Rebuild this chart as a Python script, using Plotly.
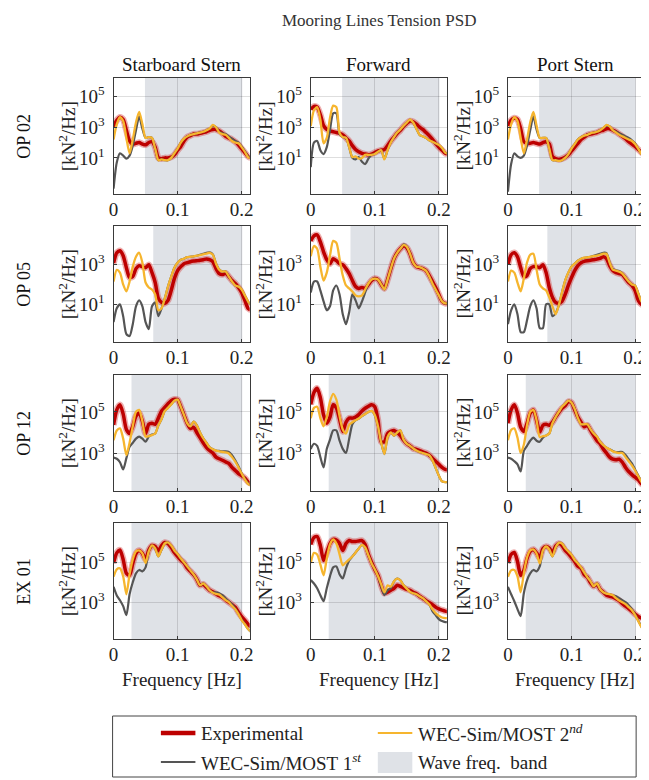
import plotly.graph_objects as go
from plotly.subplots import make_subplots

# ---------------- data (log10 of PSD, kN^2/Hz) ----------------
F = [0.0, 0.005, 0.01, 0.015, 0.02, 0.025, 0.03, 0.035, 0.04, 0.045, 0.05, 0.055, 0.06, 0.065,
     0.07, 0.075, 0.08, 0.085, 0.09, 0.095, 0.1, 0.105, 0.11, 0.115, 0.12, 0.125, 0.13, 0.135,
     0.14, 0.145, 0.15, 0.155, 0.16, 0.165, 0.17, 0.175, 0.18, 0.185, 0.19, 0.195, 0.2, 0.205,
     0.21, 0.215]

ROW_NAMES = ["OP 02", "OP 05", "OP 12", "EX 01"]
COL_NAMES = ["Starboard Stern", "Forward", "Port Stern"]
BAND_LO = [0.049, 0.062, 0.028, 0.028]
BAND_HI = [0.201, 0.201, 0.201, 0.201]
Y_RANGE = [[-1.35, 6.2], [-0.9, 4.95], [1.15, 6.8], [1.15, 6.98]]
Y_TICK_EXP = [[1, 3, 5], [1, 3], [3, 5], [3, 5]]
X_TICKS = [0, 0.1, 0.2]
X_TICK_TEXT = ["0", "0.1", "0.2"]

# OP 02
EXP_OP02_SS = [3.05,3.45,3.65,3.5,2.8,2.1,1.9,1.95,2.0,1.9,1.85,2.0,2.05,1.7,1.0,0.95,1.0,1.0,1.05,1.2,1.5,1.75,2.1,2.35,2.45,2.55,2.55,2.6,2.65,2.7,2.8,2.85,2.85,2.75,2.6,2.4,2.3,2.2,2.05,1.85,1.6,1.35,1.1,1.0]
M2_OP02_SS = [2.2,3.2,3.65,3.4,2.3,1.3,2.2,3.3,4.0,3.2,2.3,2.35,2.3,1.6,0.85,0.9,0.85,0.85,1.0,1.3,1.6,2.0,2.25,2.4,2.5,2.55,2.6,2.65,2.7,2.8,2.9,3.15,3.0,2.65,2.55,2.5,2.3,2.1,2.0,1.95,1.7,1.4,1.05,0.95]
M1_OP02_SS = [-1.0,0.7,1.3,1.15,0.95,1.15,1.8,2.8,3.7,2.9,2.3,2.35,2.3,1.6,0.85,0.9,0.85,0.85,1.0,1.3,1.6,2.0,2.25,2.4,2.5,2.55,2.6,2.65,2.7,2.8,2.9,3.1,3.0,2.7,2.6,2.55,2.4,2.25,2.1,2.0,1.75,1.45,1.1,1.0]

EXP_OP02_FW = [4.15,4.35,4.3,3.8,3.1,2.85,2.75,2.7,2.65,2.6,2.5,2.3,2.1,1.8,1.55,1.4,1.3,1.25,1.2,1.25,1.35,1.45,1.5,1.55,1.8,2.1,2.35,2.6,2.8,3.05,3.25,3.4,3.35,3.2,3.0,2.85,2.65,2.45,2.2,1.95,1.7,1.5,1.3,1.25]
M2_OP02_FW = [3.07,4.1,4.3,3.5,1.95,2.3,3.6,4.4,4.3,2.63,2.35,2.3,1.7,1.05,1.1,0.95,1.0,1.2,1.2,1.2,1.25,1.4,1.5,0.9,1.5,2.0,2.35,2.65,2.85,3.1,3.3,3.5,3.3,2.9,2.5,2.4,2.3,2.15,2.05,1.95,1.85,1.65,1.35,1.25]
M1_OP02_FW = [0.4,2.0,2.1,1.5,1.25,1.7,2.8,3.9,3.9,2.55,2.35,2.3,1.7,1.0,0.9,1.05,0.75,0.6,0.95,1.2,1.25,1.4,1.5,0.95,1.5,2.0,2.35,2.65,2.85,3.1,3.3,3.5,3.3,2.9,2.5,2.4,2.3,2.15,2.05,1.95,1.85,1.65,1.35,1.25]

EXP_OP02_PS = [3.07,3.45,3.6,3.5,2.9,2.05,1.95,1.95,2.0,1.95,1.9,2.0,2.05,1.9,1.1,0.95,0.9,0.95,1.05,1.2,1.45,1.7,1.95,2.2,2.35,2.5,2.55,2.6,2.65,2.75,2.8,2.9,2.9,2.8,2.7,2.55,2.4,2.25,2.05,1.9,1.75,1.55,1.35,1.2]
M2_OP02_PS = [2.2,3.2,3.65,3.4,2.3,1.3,2.2,3.3,4.0,3.1,2.3,2.3,2.3,1.6,0.85,0.85,0.8,0.85,1.0,1.25,1.6,1.9,2.2,2.35,2.45,2.5,2.6,2.65,2.7,2.8,2.95,3.15,3.05,2.8,2.65,2.5,2.4,2.3,2.2,2.1,1.9,1.6,1.25,1.1]
M1_OP02_PS = [-1.2,0.6,1.3,1.1,1.0,1.15,1.8,2.8,3.7,2.85,2.3,2.3,2.3,1.6,0.85,0.85,0.8,0.85,1.0,1.25,1.6,1.9,2.2,2.35,2.45,2.5,2.6,2.65,2.7,2.8,2.95,3.1,3.05,2.8,2.7,2.6,2.5,2.4,2.3,2.15,1.95,1.6,1.25,1.1]

# OP 05
EXP_OP05_SS = [3.08,3.6,3.7,3.45,2.85,2.35,2.4,2.8,2.95,2.9,2.85,3.0,2.6,2.1,1.3,1.1,1.05,1.2,1.7,2.3,2.7,2.9,3.05,3.1,3.15,3.18,3.2,3.22,3.25,3.29,3.25,3.15,2.8,2.55,2.5,2.57,2.4,2.2,2.05,1.85,1.6,1.2,0.8,0.7]
M2_OP05_SS = [2.15,2.74,2.6,2.0,1.65,2.15,2.9,3.4,3.6,3.1,2.1,1.85,1.75,1.5,0.7,0.8,1.3,1.9,2.4,2.85,3.1,3.25,3.3,3.38,3.4,3.42,3.45,3.48,3.52,3.56,3.6,3.5,3.05,2.75,2.65,2.66,2.4,2.15,1.95,1.9,1.75,1.45,1.15,0.95]
M1_OP05_SS = [0.1,0.8,1.0,0.4,-0.5,-0.6,0.0,0.9,1.2,0.9,0.1,-0.25,0.9,1.1,0.4,0.8,1.3,1.9,2.4,2.85,3.1,3.25,3.3,3.38,3.4,3.42,3.45,3.5,3.55,3.6,3.62,3.52,3.05,2.75,2.65,2.66,2.4,2.15,1.95,1.9,1.75,1.45,1.15,0.95]

EXP_OP05_FW = [4.2,4.45,4.5,4.15,3.65,3.25,3.05,3.3,3.2,3.05,3.0,2.8,2.55,2.2,1.9,1.8,1.85,1.8,2.0,2.2,2.3,2.25,2.0,1.8,2.25,2.8,3.3,3.6,3.8,3.95,3.85,3.55,3.1,2.9,2.85,2.8,2.7,2.45,2.15,1.85,1.5,1.15,1.05,1.05]
M2_OP05_FW = [3.43,3.94,3.8,2.9,2.2,2.6,3.45,4.2,4.1,3.3,2.45,1.95,1.8,1.65,1.45,1.4,1.45,1.75,2.05,2.25,2.3,2.25,2.0,1.75,2.25,2.8,3.3,3.6,3.8,4.0,3.9,3.55,3.1,2.9,2.88,2.8,2.7,2.4,2.05,1.75,1.45,1.15,1.05,1.05]
M1_OP05_FW = [1.6,2.15,2.15,1.7,1.15,0.7,0.9,1.7,1.95,1.5,0.5,0.0,0.6,1.5,1.2,0.8,1.15,1.6,2.05,2.25,2.3,2.25,2.0,1.75,2.25,2.8,3.3,3.6,3.8,4.02,3.92,3.55,3.1,2.9,2.88,2.8,2.7,2.4,2.05,1.75,1.45,1.15,1.05,1.05]

EXP_OP05_PS = [3.0,3.5,3.6,3.4,2.85,2.4,2.45,2.8,2.9,2.9,2.85,3.0,2.6,1.85,1.35,1.1,1.05,1.15,1.5,1.95,2.35,2.7,2.95,3.1,3.17,3.2,3.22,3.25,3.28,3.32,3.4,3.3,2.95,2.7,2.6,2.55,2.5,2.3,2.1,1.95,1.7,1.2,1.0,0.95]
M2_OP05_PS = [2.15,2.7,2.6,2.1,1.65,2.3,3.1,3.5,3.55,2.75,2.0,1.8,1.7,1.35,0.9,0.5,0.95,1.6,2.2,2.6,2.9,3.05,3.2,3.3,3.35,3.37,3.4,3.43,3.46,3.5,3.55,3.55,3.1,2.75,2.7,2.65,2.55,2.35,2.15,2.0,1.95,1.55,1.15,1.0]
M1_OP05_PS = [0.0,0.7,1.0,0.5,-0.4,-0.4,0.2,0.9,1.2,0.8,-0.2,-0.2,1.0,1.0,0.4,0.55,0.95,1.6,2.2,2.6,2.9,3.05,3.2,3.3,3.35,3.37,3.4,3.45,3.5,3.55,3.6,3.58,3.12,2.78,2.72,2.68,2.57,2.37,2.15,2.0,1.95,1.55,1.15,1.0]

# OP 12
EXP_OP12_SS = [4.37,5.1,5.35,4.9,4.15,3.95,4.3,4.8,4.95,4.55,3.95,4.4,4.45,4.4,4.7,5.05,5.22,5.4,5.55,5.62,5.6,5.25,4.85,4.45,4.2,4.25,4.0,3.75,3.5,3.28,3.12,3.0,2.8,2.72,2.65,2.57,2.5,2.3,2.15,2.0,1.9,1.78,1.6,1.5]
M2_OP12_SS = [3.62,4.1,4.2,3.7,2.9,3.5,4.3,5.0,5.1,4.55,3.8,3.82,3.87,3.95,4.35,4.65,5.05,5.2,5.37,5.55,5.6,5.25,4.85,4.45,4.3,4.53,4.35,4.0,3.72,3.5,3.28,3.18,3.12,3.08,3.05,3.03,2.98,2.8,2.58,2.3,2.0,1.72,1.5,1.4]
M1_OP12_SS = [2.78,2.72,2.55,2.2,2.75,3.3,3.5,3.7,3.8,3.7,3.55,3.8,3.9,3.95,4.35,4.65,5.05,5.2,5.37,5.55,5.6,5.25,4.85,4.45,4.3,4.53,4.35,4.0,3.72,3.5,3.28,3.18,3.12,3.1,3.08,3.08,3.05,2.9,2.65,2.35,2.02,1.74,1.52,1.42]

EXP_OP12_FW = [5.37,5.95,6.15,5.7,4.85,4.45,4.75,5.35,5.2,4.65,4.05,4.5,4.7,4.7,4.75,4.87,5.05,5.18,5.28,5.35,5.25,4.6,3.55,3.55,3.95,4.05,4.1,4.0,3.85,3.62,3.45,3.35,3.22,3.18,3.12,3.05,3.0,2.9,2.75,2.6,2.45,2.3,2.2,2.18]
M2_OP12_FW = [4.7,5.2,5.25,4.7,4.3,4.75,5.5,5.88,5.6,4.8,4.15,3.95,4.37,4.5,4.6,4.68,4.8,4.9,5.0,5.05,4.85,4.3,3.5,2.95,3.78,4.0,3.85,4.0,4.1,3.65,3.45,3.35,3.22,3.12,3.05,3.0,2.95,2.9,2.65,2.28,1.9,1.62,1.58,1.58]
M1_OP12_FW = [3.2,3.45,3.35,2.8,2.3,3.2,3.65,4.1,4.1,3.6,3.2,3.0,3.7,4.4,4.6,4.68,4.8,4.9,5.0,5.05,4.85,4.3,3.5,2.95,3.78,4.0,3.85,4.0,4.1,3.65,3.45,3.35,3.22,3.12,3.05,3.0,2.95,2.9,2.65,2.28,1.9,1.62,1.58,1.58]

EXP_OP12_PS = [4.45,5.1,5.35,4.95,4.25,4.05,4.45,4.95,5.1,4.6,4.03,4.35,4.4,4.35,4.5,4.75,4.98,5.18,5.3,5.5,5.45,5.1,4.75,4.5,4.28,4.35,4.1,3.85,3.6,3.45,3.2,3.0,2.8,2.7,2.67,2.7,2.55,2.3,2.1,1.95,1.82,1.7,1.5,1.45]
M2_OP12_PS = [3.62,4.12,4.2,3.75,3.0,3.4,4.35,5.0,5.1,4.6,3.78,3.82,3.85,3.95,4.45,4.75,5.0,5.25,5.4,5.55,5.45,5.15,4.7,4.4,4.4,4.4,4.15,3.95,3.8,3.55,3.38,3.26,3.18,3.08,3.03,3.0,3.0,2.8,2.6,2.4,2.15,1.87,1.6,1.4]
M1_OP12_PS = [2.78,2.72,2.6,2.45,2.1,3.1,3.35,3.6,3.75,3.6,3.55,3.75,3.85,3.95,4.45,4.75,5.0,5.25,5.4,5.55,5.45,5.15,4.7,4.4,4.4,4.4,4.15,3.95,3.8,3.55,3.38,3.26,3.18,3.1,3.05,3.05,3.05,2.9,2.7,2.5,2.2,1.9,1.62,1.42]

# EX 01
EXP_EX01_SS = [4.97,5.48,5.62,5.15,4.45,4.35,4.95,5.45,5.6,5.45,5.15,5.62,5.85,5.8,5.58,5.85,6.0,5.95,5.75,5.5,5.3,5.12,4.98,4.72,4.55,4.38,4.15,3.85,3.9,3.75,3.6,3.52,3.42,3.32,3.25,3.12,3.0,2.88,2.75,2.5,2.28,2.1,1.9,1.75]
M2_EX01_SS = [4.28,4.65,4.7,4.3,3.4,4.4,5.15,5.55,5.6,5.45,4.97,5.55,5.85,5.7,5.3,5.65,5.95,6.0,5.85,5.6,5.42,5.2,5.0,4.8,4.6,4.4,4.15,3.85,3.95,3.8,3.6,3.48,3.42,3.38,3.25,3.1,3.0,2.82,2.65,2.4,2.1,1.89,1.65,1.5]
M1_EX01_SS = [3.77,3.34,3.1,2.8,2.35,3.4,4.0,4.45,4.62,4.55,4.75,5.55,5.85,5.7,5.3,5.65,5.95,6.0,5.85,5.6,5.42,5.2,5.0,4.8,4.6,4.4,4.15,3.85,3.95,3.8,3.6,3.48,3.5,3.45,3.35,3.2,3.05,2.9,2.68,2.42,2.12,1.9,1.66,1.5]

EXP_EX01_FW = [5.9,6.25,6.3,5.85,5.1,5.5,5.95,6.15,6.12,5.95,5.6,5.95,6.1,6.05,6.05,6.08,6.1,5.9,5.4,5.0,4.65,4.35,3.85,3.45,3.5,3.6,3.7,3.85,3.8,3.72,3.65,3.6,3.5,3.42,3.3,3.2,3.08,2.98,2.88,2.75,2.66,2.6,2.55,2.53]
M2_EX01_FW = [4.97,5.48,5.4,4.9,4.35,5.2,5.9,6.15,5.95,5.4,4.85,5.0,5.15,5.3,5.5,5.7,5.88,5.75,5.35,4.95,4.65,4.3,3.9,3.5,3.85,3.78,4.05,4.18,4.1,3.85,3.68,3.52,3.45,3.4,3.3,3.2,3.05,2.9,2.65,2.45,2.32,2.23,2.2,2.2]
M1_EX01_FW = [4.11,3.94,3.7,3.35,3.05,3.7,4.3,4.75,4.8,4.4,4.2,4.7,5.1,5.3,5.5,5.7,5.88,5.75,5.35,4.95,4.65,4.3,3.8,3.35,3.6,3.7,4.05,4.18,4.1,3.85,3.68,3.52,3.45,3.4,3.3,3.2,3.05,2.9,2.55,2.35,2.15,2.05,2.0,2.0]

EXP_EX01_PS = [4.97,5.4,5.5,5.05,4.35,4.6,5.2,5.55,5.65,5.48,5.22,5.7,5.8,5.72,5.5,5.82,5.95,5.85,5.6,5.45,5.25,5.05,4.8,4.7,4.38,4.25,3.98,3.8,3.9,3.65,3.5,3.35,3.3,3.26,3.18,3.08,2.92,2.8,2.68,2.55,2.4,2.28,2.2,2.08]
M2_EX01_PS = [4.28,4.6,4.62,4.3,3.5,4.45,5.25,5.6,5.65,5.45,4.95,5.6,5.8,5.65,5.3,5.75,5.98,5.95,5.72,5.55,5.38,5.12,4.95,4.75,4.5,4.25,4.05,3.8,3.95,3.65,3.5,3.43,3.4,3.35,3.2,3.08,3.0,2.9,2.75,2.6,2.35,2.05,1.75,1.55]
M1_EX01_PS = [3.77,3.4,3.05,2.65,2.3,3.45,4.1,4.45,4.62,4.55,4.8,5.6,5.8,5.65,5.3,5.75,5.98,5.95,5.72,5.55,5.38,5.12,4.95,4.75,4.5,4.25,4.05,3.8,3.95,3.65,3.5,3.43,3.4,3.35,3.3,3.2,3.1,3.0,2.85,2.65,2.38,2.07,1.77,1.56]

PANELS = [
    [(EXP_OP02_SS, M1_OP02_SS, M2_OP02_SS), (EXP_OP02_FW, M1_OP02_FW, M2_OP02_FW), (EXP_OP02_PS, M1_OP02_PS, M2_OP02_PS)],
    [(EXP_OP05_SS, M1_OP05_SS, M2_OP05_SS), (EXP_OP05_FW, M1_OP05_FW, M2_OP05_FW), (EXP_OP05_PS, M1_OP05_PS, M2_OP05_PS)],
    [(EXP_OP12_SS, M1_OP12_SS, M2_OP12_SS), (EXP_OP12_FW, M1_OP12_FW, M2_OP12_FW), (EXP_OP12_PS, M1_OP12_PS, M2_OP12_PS)],
    [(EXP_EX01_SS, M1_EX01_SS, M2_EX01_SS), (EXP_EX01_FW, M1_EX01_FW, M2_EX01_FW), (EXP_EX01_PS, M1_EX01_PS, M2_EX01_PS)],
]

# ---------------- style / layout ----------------
OFF = 8                 # page body margin of the browser
W, H = 649 - OFF, 780 - OFF
FONT = "Liberation Serif"
FS = 19
C_EXP = "#bd0000"
C_EXP_HALO = "rgba(210,45,45,0.38)"
C_M1 = "#555555"
C_M2 = "#f6b52e"
C_BAND = "#dfe2e7"
C_AX = "#3a3a3a"

# target positions in window pixels
COL_PX = [(110, 248), (310, 448), (510, 647)]
ROW_PX = [(78, 194), (226, 342), (375, 491), (523, 639)]


def px(x):
    return (x - OFF) / W


def py(y):
    return 1 - (y - OFF) / H


fig = make_subplots(rows=4, cols=3)

for r in range(4):
    for c in range(3):
        exp, m1, m2 = PANELS[r][c]
        exp_y = [10 ** v for v in exp]
        m1_y = [10 ** v for v in m1]
        m2_y = [10 ** v for v in m2]
        common = dict(x=F, mode="lines", showlegend=False, hoverinfo="skip")
        fig.add_trace(go.Scatter(y=exp_y, line=dict(color=C_EXP_HALO, width=6.5, shape="spline", smoothing=0.7), **common), row=r + 1, col=c + 1)
        fig.add_trace(go.Scatter(y=exp_y, line=dict(color=C_EXP, width=3.5, shape="spline", smoothing=0.7), **common), row=r + 1, col=c + 1)
        fig.add_trace(go.Scatter(y=m1_y, line=dict(color=C_M1, width=2.2, shape="spline", smoothing=0.7), **common), row=r + 1, col=c + 1)
        fig.add_trace(go.Scatter(y=m2_y, line=dict(color=C_M2, width=2.3, shape="spline", smoothing=0.7), **common), row=r + 1, col=c + 1)
        fig.add_vrect(x0=BAND_LO[r], x1=BAND_HI[r], fillcolor=C_BAND, line_width=0, layer="below", row=r + 1, col=c + 1)

axis_common = dict(showline=True, linecolor=C_AX, linewidth=1, mirror=True, showgrid=True,
                   gridcolor="rgba(0,0,0,0.13)", gridwidth=1, zeroline=False, ticks="inside",
                   ticklen=3, tickcolor=C_AX, ticklabeloverflow="allow",
                   tickfont=dict(family=FONT, size=FS, color="#222222"))

for r in range(4):
    for c in range(3):
        k = r * 3 + c + 1
        sfx = "" if k == 1 else str(k)
        x0, x1 = COL_PX[c]
        y0, y1 = ROW_PX[r]
        fig.layout["xaxis" + sfx].update(domain=[px(x0), px(x1)], range=[0, 0.2125],
                                         tickvals=X_TICKS, ticktext=X_TICK_TEXT,
                                         ticklabelstandoff=-2, **axis_common)
        tv = [10 ** e for e in Y_TICK_EXP[r]]
        tt = ["10<sup>%d</sup>" % e for e in Y_TICK_EXP[r]]
        fig.layout["yaxis" + sfx].update(domain=[py(y1), py(y0)], type="log", range=Y_RANGE[r],
                                         tickvals=tv, ticktext=tt, ticklabelstandoff=4, **axis_common)

annotations = []
annotations.append(dict(text="Mooring Lines Tension PSD", x=px(379), y=py(9), xref="paper", yref="paper",
                        showarrow=False, xanchor="center", yanchor="top",
                        font=dict(family=FONT, size=17, color="#333333")))
for c in range(3):
    annotations.append(dict(text=COL_NAMES[c], x=px((COL_PX[c][0] + COL_PX[c][1]) / 2), y=py(64),
                            xref="paper", yref="paper", showarrow=False, xanchor="center", yanchor="middle",
                            font=dict(family=FONT, size=FS, color="#111111")))
for r in range(4):
    yc = (ROW_PX[r][0] + ROW_PX[r][1]) / 2
    annotations.append(dict(text=ROW_NAMES[r], x=px(19), y=py(yc), xref="paper", yref="paper",
                            showarrow=False, textangle=-90, xanchor="center", yanchor="middle",
                            font=dict(family=FONT, size=18, color="#111111")))
    for c in range(3):
        annotations.append(dict(text="[kN<sup>2</sup>/Hz]", x=px(COL_PX[c][0] - 47), y=py(yc),
                                xref="paper", yref="paper", showarrow=False, textangle=-90,
                                xanchor="center", yanchor="middle",
                                font=dict(family=FONT, size=FS, color="#222222")))
for c in range(3):
    annotations.append(dict(text="Frequency [Hz]", x=px((COL_PX[c][0] + COL_PX[c][1]) / 2), y=py(679),
                            xref="paper", yref="paper", showarrow=False, xanchor="center", yanchor="middle",
                            font=dict(family=FONT, size=FS, color="#222222")))

# manual legend
shapes = []
shapes.append(dict(type="rect", xref="paper", yref="paper", x0=px(109), x1=px(640), y0=py(777), y1=py(716),
                   line=dict(color="#444444", width=1), fillcolor="white", layer="above"))
shapes.append(dict(type="line", xref="paper", yref="paper", x0=px(158), x1=px(193), y0=py(733), y1=py(733),
                   line=dict(color=C_EXP, width=4.5)))
shapes.append(dict(type="line", xref="paper", yref="paper", x0=px(378), x1=px(413), y0=py(733), y1=py(733),
                   line=dict(color=C_M2, width=2)))
shapes.append(dict(type="line", xref="paper", yref="paper", x0=px(158), x1=px(193), y0=py(762), y1=py(762),
                   line=dict(color=C_M1, width=2)))
shapes.append(dict(type="rect", xref="paper", yref="paper", x0=px(378), x1=px(413), y0=py(773), y1=py(752),
                   line=dict(width=0), fillcolor=C_BAND))
leg_items = [("Experimental", 197, 733), ("WEC-Sim/MOST 2<sup><i>nd</i></sup>", 417, 733),
             ("WEC-Sim/MOST 1<sup><i>st</i></sup>", 197, 762), ("Wave freq.  band", 417, 762)]
for txt, lx, ly in leg_items:
    annotations.append(dict(text=txt, x=px(lx), y=py(ly), xref="paper", yref="paper", showarrow=False,
                            xanchor="left", yanchor="middle", font=dict(family=FONT, size=FS, color="#222222")))

for s in shapes:
    fig.add_shape(**s)

fig.update_layout(width=W, height=H, autosize=False, margin=dict(l=0, r=0, t=0, b=0),
                  paper_bgcolor="white", plot_bgcolor="white", showlegend=False,
                  annotations=list(fig.layout.annotations) + annotations)

fig.write_html("out.html")
